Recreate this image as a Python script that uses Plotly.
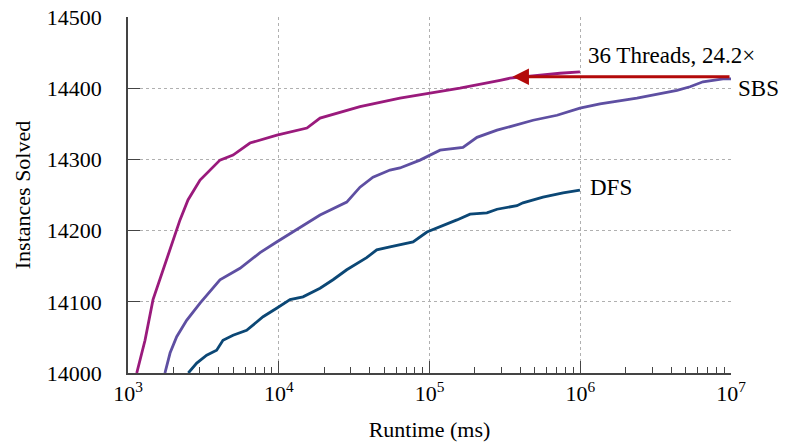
import plotly.graph_objects as go

# 36 Threads (runtime log10 ms, instances solved)
threads_logx = [3.058, 3.113, 3.166, 3.212, 3.279, 3.345, 3.398, 3.478, 3.610, 3.697, 3.809,
                3.988, 4.187, 4.274, 4.539, 4.804, 5.003, 5.202, 5.468, 5.534, 5.866, 5.998]
threads_y = [14000, 14046, 14103, 14131, 14173, 14215, 14243, 14271, 14299, 14306, 14323,
             14334, 14344, 14358, 14374, 14386, 14393, 14400, 14411, 14414, 14421, 14423]

sbs_logx = [3.245, 3.279, 3.323, 3.389, 3.478, 3.610, 3.743, 3.876, 3.986, 4.141, 4.274, 4.451,
            4.539, 4.625, 4.738, 4.804, 4.937, 5.070, 5.222, 5.315, 5.448, 5.687, 5.846, 5.998,
            6.131, 6.376, 6.642, 6.728, 6.814, 6.947, 7.0]
sbs_y = [14000, 14028, 14051, 14074, 14098, 14131, 14147, 14169, 14184, 14204, 14222, 14240,
         14261, 14275, 14285, 14288, 14299, 14313, 14317, 14331, 14341, 14355, 14362, 14372,
         14378, 14386, 14397, 14402, 14409, 14413, 14413]

dfs_logx = [3.400, 3.456, 3.522, 3.588, 3.630, 3.697, 3.787, 3.896, 3.986, 4.075, 4.161, 4.274,
            4.360, 4.451, 4.583, 4.650, 4.738, 4.804, 4.891, 4.983, 5.070, 5.182, 5.269, 5.381,
            5.448, 5.580, 5.620, 5.753, 5.886, 5.998]
dfs_y = [14000, 14014, 14025, 14032, 14046, 14053, 14060, 14079, 14091, 14103, 14107, 14119,
         14131, 14145, 14162, 14173, 14177, 14180, 14184, 14198, 14205, 14215, 14223, 14225,
         14230, 14235, 14239, 14247, 14253, 14257]

x_tickvals = [1e3, 1e4, 1e5, 1e6, 1e7]
x_ticktext = ["10<sup>3</sup>", "10<sup>4</sup>", "10<sup>5</sup>", "10<sup>6</sup>", "10<sup>7</sup>"]
x_minor = [m * 10 ** e for e in range(3, 7) for m in range(2, 10)]
y_tickvals = [14000, 14100, 14200, 14300, 14400, 14500]
y_ticktext = ["14000", "14100", "14200", "14300", "14400", "14500"]

arrow_y = 14416

FONT = "Liberation Serif"
FS = 22
AFS = 23

fig = go.Figure()
for lx, ys, col in [(sbs_logx, sbs_y, "#5E4FA2"),
                    (dfs_logx, dfs_y, "#0B4775"),
                    (threads_logx, threads_y, "#9A1A7C")]:
    fig.add_trace(go.Scatter(x=[10 ** v for v in lx], y=ys, mode="lines",
                             line=dict(color=col, width=2.8), showlegend=False,
                             hoverinfo="skip"))

fig.add_annotation(x=5.55, y=arrow_y, ax=7.0, ay=arrow_y, xref="x", yref="y",
                   axref="x", ayref="y", showarrow=True, arrowhead=2, arrowsize=1.1,
                   arrowwidth=3, arrowcolor="#B30A0A", text="")
fig.add_annotation(x=6.0, y=14446, xref="x", yref="y", text="36 Threads, 24.2×",
                   showarrow=False, xanchor="left", yanchor="middle", xshift=6,
                   font=dict(family=FONT, size=AFS, color="black"))
fig.add_annotation(x=7.0, y=14399, xref="x", yref="y", text="SBS",
                   showarrow=False, xanchor="right", yanchor="middle", xshift=50,
                   font=dict(family=FONT, size=AFS, color="black"))
fig.add_annotation(x=6.0, y=dfs_y[-1], xref="x", yref="y", text="DFS",
                   showarrow=False, xanchor="left", yanchor="middle", xshift=8, yshift=3,
                   font=dict(family=FONT, size=AFS, color="black"))

fig.update_layout(
    width=786, height=443,
    margin=dict(l=128, r=55, t=17, b=70),
    plot_bgcolor="white", paper_bgcolor="white",
    font=dict(family=FONT, size=FS, color="black"),
    xaxis=dict(type="log", range=[3, 7], tickvals=x_tickvals, ticktext=x_ticktext,
               tickfont=dict(family=FONT, size=FS, color="black"),
               automargin=False,
               showgrid=True, gridcolor="#b0b0b0", griddash="3px,3px", gridwidth=1,
               showline=True, linecolor="#444", linewidth=1.5,
               ticks="inside", ticklen=12, tickcolor="#444", tickwidth=1.2,
               minor=dict(tickvals=x_minor, ticks="inside", ticklen=6, tickcolor="#444",
                          tickwidth=1, showgrid=False),
               zeroline=False,
               title=dict(text="Runtime (ms)", font=dict(family=FONT, size=FS, color="black"),
                          standoff=16)),
    yaxis=dict(range=[14000, 14500], tickvals=y_tickvals, ticktext=y_ticktext,
               tickfont=dict(family=FONT, size=FS, color="black"),
               ticklabelstandoff=20, automargin=False,
               showgrid=True, gridcolor="#b0b0b0", griddash="3px,3px", gridwidth=1,
               showline=True, linecolor="#444", linewidth=1.5,
               ticks="inside", ticklen=12, tickcolor="#444", tickwidth=1.2,
               zeroline=False,
               title=dict(text="Instances Solved", font=dict(family=FONT, size=FS, color="black"),
                          standoff=10)),
)

fig.write_html("out.html")
